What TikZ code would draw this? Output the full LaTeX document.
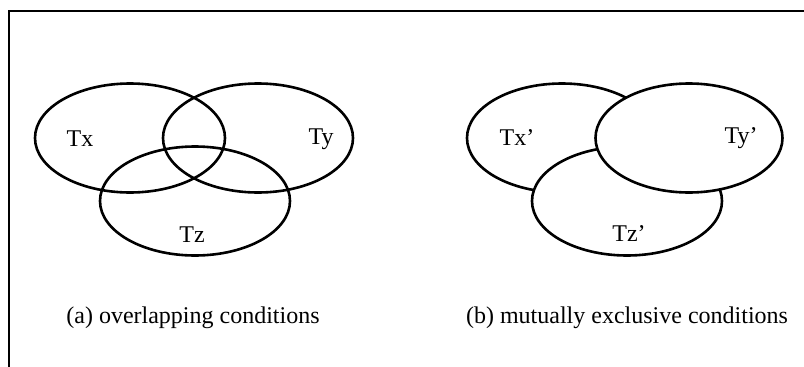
\documentclass[tikz,border=0pt]{standalone}
\usepackage{fontspec}
\setmainfont{Liberation Serif}
\usetikzlibrary{shapes.geometric}

\tikzset{
  setring/.style={ellipse,draw=black,fill=white,line width=2.6pt,inner sep=0pt,
    minimum width=190pt,minimum height=109pt},
  setlabel/.style={inner sep=0pt,font=\fontsize{24}{27}\selectfont},
}

\begin{document}
\begin{tikzpicture}[x=1pt,y=-1pt]
\useasboundingbox (0,0) rectangle (804,367);
\draw[black,line width=2.5pt] (9,367) -- (9,11) -- (804,11);
% (a) overlapping
\begin{scope}
\node[setring,fill=none] (tx) at (130,138) {};
\node[setring,fill=none] (ty) at (258,138) {};
\node[setring,fill=none] (tz) at (195,201) {};
\node[setlabel] (txlab) at (80,139) {Tx};
\node[setlabel] (tylab) at (321,139) {Ty};
\node[setlabel] (tzlab) at (192,235) {Tz};
\node[setlabel] (capa) at (193,318) {(a) overlapping conditions};
\end{scope}
% (b) mutually exclusive
\begin{scope}
\node[setring] (txp) at (562,138) {};
\node[setring] (tzp) at (627,201) {};
\node[setring,minimum width=187pt] (typ) at (689,138) {};
\node[setlabel] (txplab) at (517,138) {Tx'};
\node[setlabel] (typlab) at (741,138) {Ty'};
\node[setlabel] (tzplab) at (629,234) {Tz'};
\node[setlabel] (capb) at (627,318) {(b) mutually exclusive conditions};
\end{scope}
\end{tikzpicture}
\end{document}
